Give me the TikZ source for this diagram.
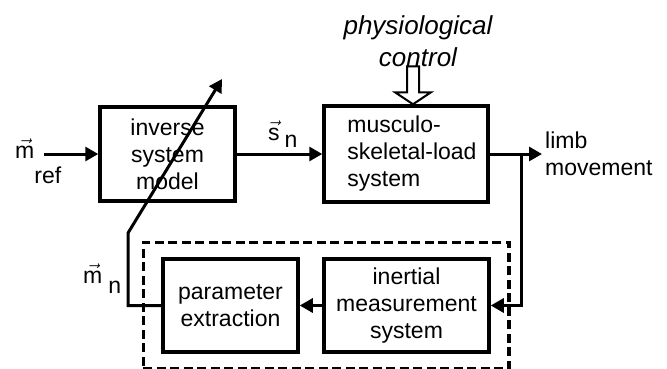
\documentclass[tikz,border=0pt]{standalone}
\usepackage{fontspec}
\setmainfont{Liberation Sans}
\usepackage{amsmath}
\usetikzlibrary{arrows.meta,positioning,fit,calc}

\begin{document}
\begin{tikzpicture}[x=1pt,y=-1pt,font=\fontsize{23}{27}\selectfont,
    block/.style={draw,line width=3.5pt,align=center,inner sep=0pt},
    flow/.style={line width=3pt,-{Triangle[length=13pt,width=14pt]}},
    lbl/.style={inner sep=0pt}]
  \useasboundingbox (0,0) rectangle (667,368);
  % blocks
  \node[block,minimum width=135,minimum height=94] (inv) at (167.5,154) {inverse\\system\\model};
  \node[block,minimum width=164,minimum height=96,align=left] (msl) at (406,154)
    {\hspace*{12pt}musculo-\\\hspace*{12pt}skeletal-load\\\hspace*{12pt}system};
  \node[block,minimum width=135,minimum height=93] (par) at (230.5,305.5) {parameter\\extraction};
  \node[block,minimum width=165,minimum height=93] (ims) at (406.5,305.5) {inertial\\measurement\\system};
  \node[draw,line width=3.5pt,dash pattern=on 9pt off 4.5pt,inner xsep=18pt,inner ysep=15pt,fit=(par)(ims)] (sensing) {};
  % forward path
  \coordinate (mref) at (44,154);
  \coordinate (out) at (542,154);
  \coordinate (tap) at (521,154);
  \draw[flow] (mref) -- (inv.west);
  \draw[flow] (inv.east) -- (msl.west);
  \draw[flow] (msl.east) -- (out);
  % feedback path
  \draw[flow] (tap) |- (ims.east);
  \draw[flow] (ims.west) -- (par.east);
  \coordinate (bend) at (128,233);
  \coordinate (adapt) at (222,79);
  \draw[flow,line join=miter] (par.west) -| (bend) -- (adapt);
  % physiological control
  \coordinate (ctrltip) at ($(msl.north)+(7,0)$);
  \draw[line width=2pt,fill=white] (ctrltip) -- ++(-18,-12) -- ++(12,0) -- ++(0,-26)
    -- ++(12,0) -- ++(0,26) -- ++(12,0) -- cycle;
  \node[lbl,font=\fontsize{26}{32}\selectfont\itshape,align=center,anchor=south] (ctrl) at (418,67) {physiological\\control};
  % signal labels
  \node[lbl,anchor=base west] (mreflbl) at (15,158) {$\vec{\text{m}}$\raisebox{-25pt}{ref}};
  \node[lbl,anchor=base west] (snlbl) at (268,140) {$\vec{\text{s}}$\hspace{5pt}\raisebox{-7pt}{n}};
  \node[lbl,anchor=base west] (mnlbl) at (83,283) {$\vec{\text{m}}$\hspace{6pt}\raisebox{-10pt}{n}};
  \node[lbl,anchor=west,align=left] (limb) at (545,154) {limb\\movement};
\end{tikzpicture}
\end{document}
